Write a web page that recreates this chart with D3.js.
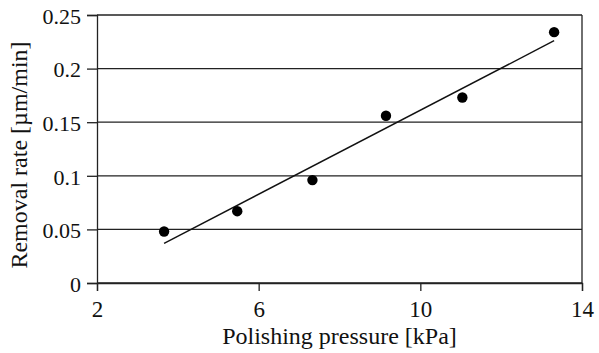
<!DOCTYPE html>
<html>
<head>
<meta charset="utf-8">
<script src="https://cdn.jsdelivr.net/npm/d3@7"></script>
<style>
  html, body { margin: 0; padding: 0; background: #fff; }
  svg { display: block; }
  text { font-family: "Liberation Serif", "Times New Roman", serif; fill: #111; }
</style>
</head>
<body>
<svg id="chart" width="599" height="353"></svg>
<script>
// Data
const pressure = [3.66, 5.47, 7.33, 9.15, 11.04, 13.31];      // kPa
const removalRate = [0.048, 0.067, 0.096, 0.156, 0.173, 0.234]; // µm/min
const fitX = [3.66, 13.31];
const fitY = [0.037, 0.226];
const xTicks = [2, 6, 10, 14];
const yTicks = [0, 0.05, 0.1, 0.15, 0.2, 0.25];
const yTickLabels = ["0", "0.05", "0.1", "0.15", "0.2", "0.25"];
const xTitle = "Polishing pressure [kPa]";
const yTitle = "Removal rate [µm/min]";

const svg = d3.select("#chart");
const mLeft = 97, mRight = 582, mTop = 15, mBottom = 283;

const x = d3.scaleLinear().domain([2, 14]).range([mLeft, mRight]);
const y = d3.scaleLinear().domain([0, 0.25]).range([mBottom, mTop]);

const ink = "#222";

// Horizontal gridlines
svg.append("g").selectAll("line").data(yTicks).join("line")
  .attr("x1", mLeft).attr("x2", mRight)
  .attr("y1", d => y(d)).attr("y2", d => y(d))
  .attr("stroke", ink).attr("stroke-width", 1.3);

// Right border
svg.append("line")
  .attr("x1", mRight).attr("x2", mRight)
  .attr("y1", y(0.25)).attr("y2", y(0))
  .attr("stroke", ink).attr("stroke-width", 1.3);

// Y axis
const yAxis = d3.axisLeft(y).tickValues(yTicks)
  .tickFormat((d, i) => yTickLabels[i]).tickSize(10).tickPadding(6);
const gy = svg.append("g").attr("transform", `translate(${mLeft},0)`).call(yAxis);
gy.select(".domain").attr("stroke", ink).attr("stroke-width", 1.3);
gy.selectAll(".tick line").attr("stroke", ink).attr("stroke-width", 1.3);
gy.selectAll(".tick text")
  .attr("font-family", "Liberation Serif, Times New Roman, serif")
  .attr("font-size", 22).attr("fill", "#111").attr("dy", "0.38em");

// X axis
const xAxis = d3.axisBottom(x).tickValues(xTicks).tickSize(8).tickPadding(10)
  .tickFormat(d3.format("d"));
const gx = svg.append("g").attr("transform", `translate(0,${mBottom})`).call(xAxis);
gx.select(".domain").attr("stroke", ink).attr("stroke-width", 1.3);
gx.selectAll(".tick line").attr("stroke", ink).attr("stroke-width", 1.3);
gx.selectAll(".tick text")
  .attr("font-family", "Liberation Serif, Times New Roman, serif")
  .attr("font-size", 23).attr("fill", "#111");

// Fit line
svg.append("path")
  .datum(fitX.map((d, i) => [d, fitY[i]]))
  .attr("d", d3.line().x(d => x(d[0])).y(d => y(d[1])))
  .attr("fill", "none").attr("stroke", "#111").attr("stroke-width", 1.4);

// Points
svg.append("g").selectAll("circle").data(pressure).join("circle")
  .attr("cx", d => x(d))
  .attr("cy", (d, i) => y(removalRate[i]))
  .attr("r", 5.2).attr("fill", "#000");

// Axis titles
svg.append("text")
  .attr("x", (mLeft + mRight) / 2).attr("y", 344)
  .attr("text-anchor", "middle").attr("font-size", 24)
  .text(xTitle);

svg.append("text")
  .attr("transform", `translate(27,155) rotate(-90)`)
  .attr("text-anchor", "middle").attr("font-size", 24)
  .text(yTitle);
</script>
</body>
</html>
